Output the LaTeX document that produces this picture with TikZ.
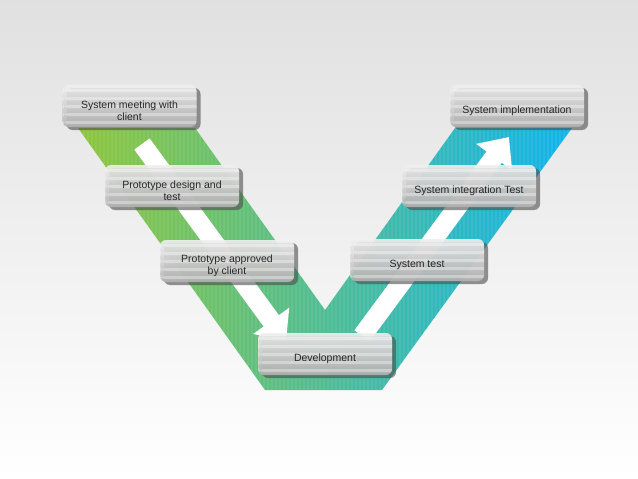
\documentclass[tikz,border=0pt]{standalone}
\usepackage{fontspec}
\setmainfont{Liberation Sans}
\usepackage{tikz}
\usetikzlibrary{arrows.meta, shadows}
\definecolor{vgreen}{HTML}{8EC63C}
\definecolor{vteal}{HTML}{45B69D}
\definecolor{vblue}{HTML}{10B3EC}
\newcommand{\lift}{\rule{0pt}{18pt}}
\tikzstyle{phase} = [rectangle, rounded corners=6pt, minimum width=134pt, minimum height=42pt, align=center, top color=black!6, bottom color=black!30, fill opacity=0.9, text opacity=1, text=black!85, font=\fontsize{10.5}{12}\selectfont, drop shadow={shadow xshift=4pt, shadow yshift=-3pt, fill=black!70, opacity=0.6},
  path picture={\foreach \k in {4,12,20,28,36}
    \fill[white, fill opacity=0.35] ([yshift=-\k pt]path picture bounding box.north west) rectangle ++(140pt,-3pt);}]
\tikzstyle{flow} = [line width=19pt, white, -{Triangle[length=25pt, width=43pt]}]

\begin{document}
\begin{tikzpicture}[x=1pt, y=-1pt]
		\useasboundingbox (0,0) rectangle (638,479);
		\shade[top color=black!12, bottom color=white] (0,0) rectangle (638,479);

		% the V, with its thin stripes
		\shade[left color=vgreen, middle color=vteal, right color=vblue] (78,128) -- (195,128) -- (325,310) -- (455,128) -- (572,128) -- (382,390) -- (265,390) -- cycle;
		\begin{scope}
			\clip (78,128) -- (195,128) -- (325,310) -- (455,128) -- (572,128) -- (382,390) -- (265,390) -- cycle;
			\foreach \x in {80,84,...,572}
				\draw[white, opacity=0.07, line width=1.5pt] (\x,128) -- (\x,390);
		\end{scope}

		\coordinate (down-start) at (142,144);
		\coordinate (down-end) at (286,341);
		\coordinate (up-start) at (362,336);
		\coordinate (up-end) at (509,137);
		\draw[flow] (down-start) -- (down-end);
		\draw[flow] (up-start) -- (up-end);

		\node (meet) [phase] at (129.5,106) {\lift System meeting with \\ client};
		\node (design) [phase] at (172,186) {\lift Prototype design and \\ test};
		\node (approved) [phase] at (227,261) {\lift Prototype approved \\ by client};
		\node (dev) [phase] at (325,354) {\lift Development};
		\node (systest) [phase] at (417,260) {\lift System test};
		\node (integ) [phase] at (469,186) {\lift System integration Test};
		\node (impl) [phase] at (517,106) {\lift System implementation};
	\end{tikzpicture}
\end{document}
